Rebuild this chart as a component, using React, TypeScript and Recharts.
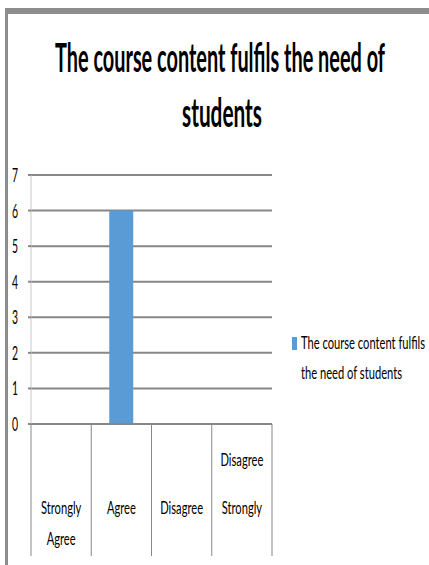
import { BarChart, Bar, XAxis, YAxis, CartesianGrid, Legend } from "recharts";

const categories = ["Strongly Agree", "Agree", "Disagree", "Disagree Strongly"];
const counts = [0, 6, 0, 0];
const yTicks = [0, 1, 2, 3, 4, 5, 6, 7];
const seriesName = "The course content fulfils the need of students";
const titleLines = ["The course content fulfils the need of", "students"];
const legendLines = ["The course content fulfils", "the need of students"];
// how each category label is broken in the picture
const tickLines = [["Strongly", "Agree"], ["Agree"], ["Disagree"], ["Disagree", "Strongly"]];

const data = categories.map((c, i) => ({ name: c, value: counts[i] }));

const FONT = "Lato, 'Open Sans', sans-serif";
const GRID = "#878787";
const BLUE = "#5B9BD5";

function YTick(props: any) {
  const { y, payload } = props;
  return (
    <g transform={`translate(15,${y + 7}) scale(0.55,1)`}>
      <text textAnchor="middle" fontSize={19} fontFamily={FONT} fill="#000">
        {payload.value}
      </text>
    </g>
  );
}

function XTick(props: any) {
  const { x, y, payload, index } = props;
  const half = payload.offset ?? 30;
  const lines = tickLines[index] || [payload.value];
  // first line baseline / line gap, as laid out in the picture
  const startY = index === 3 ? y + 42 : y + 90;
  const gap = index === 3 ? 48 : 31;
  return (
    <g>
      <line x1={x - half} x2={x - half} y1={y} y2={y + 132} stroke={GRID} strokeWidth={1} />
      {index === categories.length - 1 && (
        <line x1={x + half} x2={x + half} y1={y} y2={y + 132} stroke={GRID} strokeWidth={1} />
      )}
      {lines.map((l, i) => (
        <g key={i} transform={`translate(${x},${startY + i * gap}) scale(0.62,1)`}>
          <text textAnchor="middle" fontSize={18} fontFamily={FONT} fill="#000">
            {l}
          </text>
        </g>
      ))}
    </g>
  );
}

function LegendBox() {
  return (
    <svg width={141} height={50} style={{ overflow: "visible" }}>
      <rect x={4} y={4} width={5} height={13} fill={BLUE} />
      <text x={13} y={16} fontSize={17} fontFamily={FONT} textLength={124} lengthAdjust="spacingAndGlyphs">
        {legendLines[0]}
      </text>
      <text x={13} y={46} fontSize={17} fontFamily={FONT} textLength={101} lengthAdjust="spacingAndGlyphs">
        {legendLines[1]}
      </text>
    </svg>
  );
}

export default function App() {
  return (
    <div style={{ position: "absolute", left: 0, top: 0, width: 429, height: 565, background: "#fff" }}>
      <div
        style={{
          position: "absolute",
          left: 5,
          top: 8,
          right: 0,
          bottom: 0,
          borderTop: "6px solid #8c8c8c",
          borderLeft: "3px solid #8c8c8c",
        }}
      />
      <svg width={429} height={140} style={{ position: "absolute", left: 0, top: 0 }}>
        <text x={220} y={72} textAnchor="middle" fontSize={40} fontWeight="bold" fontFamily={FONT} textLength={330} lengthAdjust="spacingAndGlyphs">
          {titleLines[0]}
        </text>
        <text x={222} y={127} textAnchor="middle" fontSize={40} fontWeight="bold" fontFamily={FONT} textLength={80} lengthAdjust="spacingAndGlyphs">
          {titleLines[1]}
        </text>
      </svg>
      <div style={{ position: "absolute", left: 0, top: 0 }}>
        <BarChart width={429} height={565} data={data} margin={{ top: 175, right: 16, bottom: 9, left: 1 }}>
          <CartesianGrid vertical={false} stroke={GRID} strokeWidth={2} />
          <XAxis
            dataKey="name"
            height={132}
            interval={0}
            tickSize={0}
            tickMargin={0}
            tickLine={false}
            axisLine={{ stroke: GRID, strokeWidth: 2 }}
            tick={<XTick />}
          />
          <YAxis
            width={30}
            domain={[0, 7]}
            ticks={yTicks}
            interval={0}
            tickSize={3}
            tickLine={{ stroke: GRID, strokeWidth: 2 }}
            axisLine={{ stroke: "#c8c8c8" }}
            tick={<YTick />}
          />
          <Legend
            layout="vertical"
            align="right"
            verticalAlign="top"
            wrapperStyle={{ position: "absolute", left: 288, top: 333, width: 141 }}
            content={() => <LegendBox />}
          />
          <Bar dataKey="value" name={seriesName} fill={BLUE} barSize={24} isAnimationActive={false} />
        </BarChart>
      </div>
    </div>
  );
}
